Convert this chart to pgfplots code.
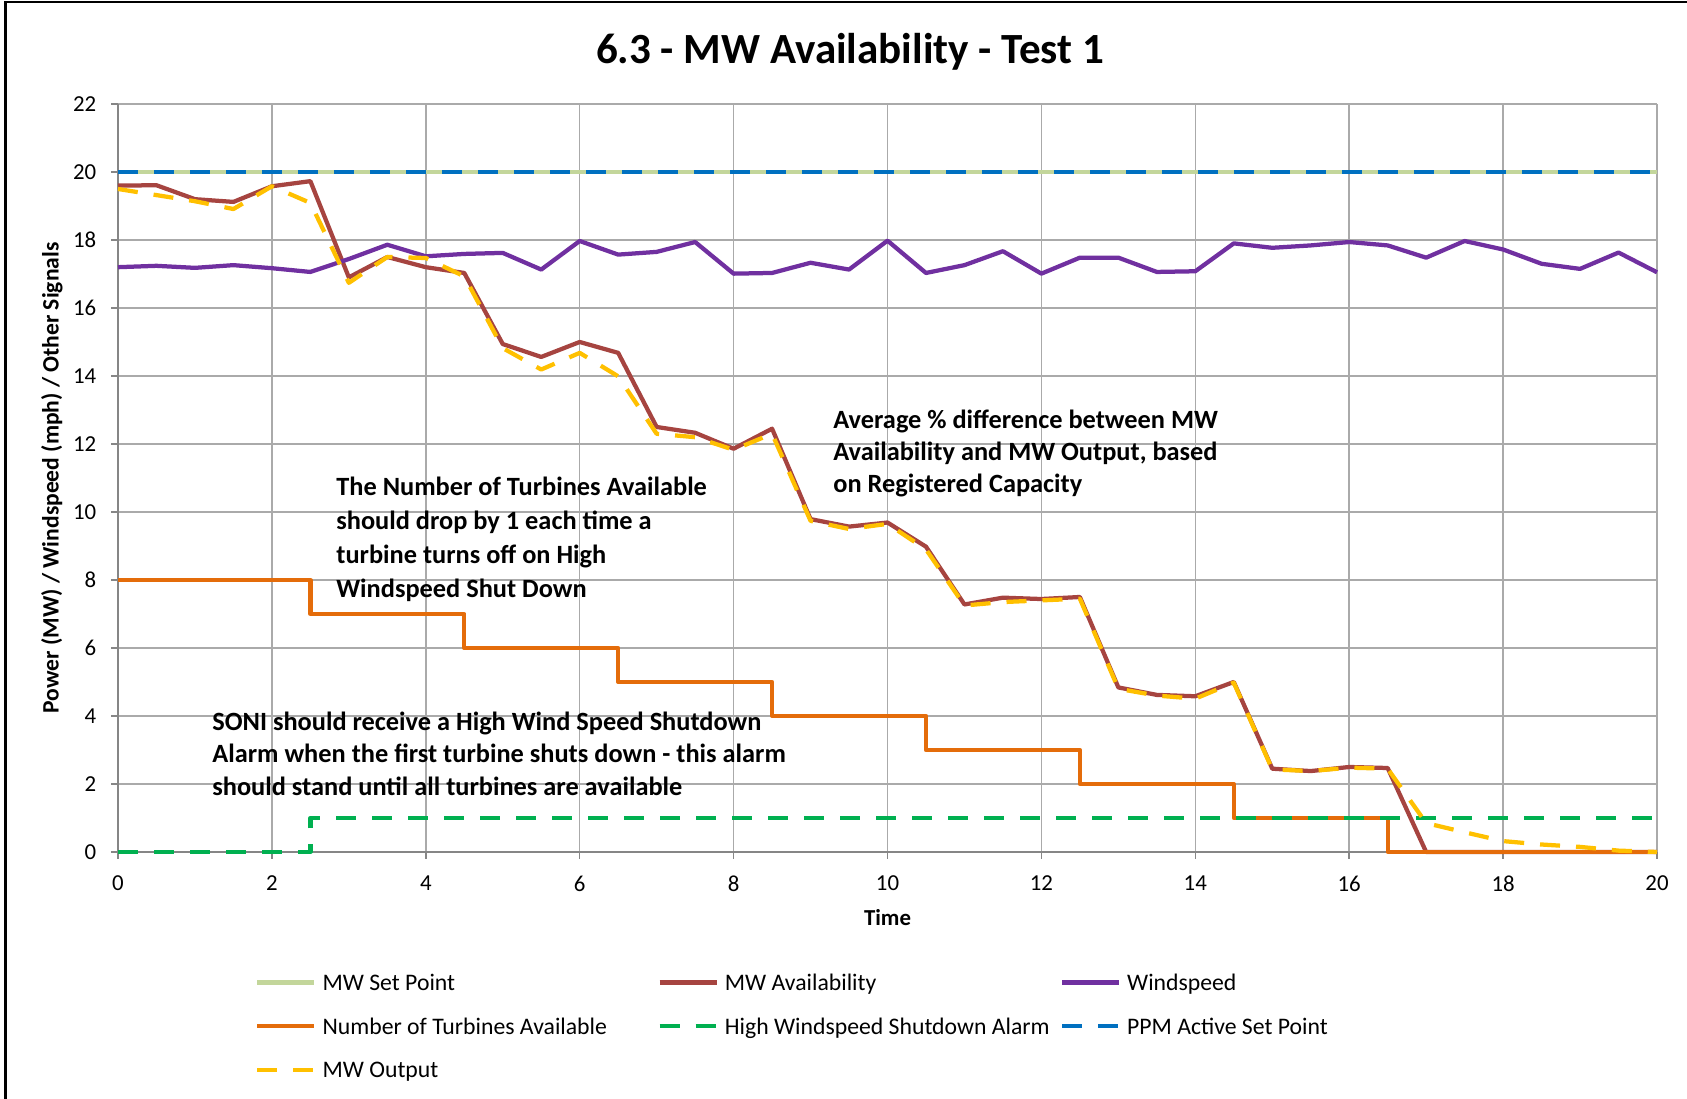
\documentclass[border=0pt]{standalone}
\usepackage{fontspec}
\setmainfont{Carlito}
\usepackage{pgfplots}
\pgfplotsset{compat=1.18}

\definecolor{setpt}{RGB}{195,214,155}
\definecolor{avail}{RGB}{166,68,64}
\definecolor{wind}{RGB}{112,48,160}
\definecolor{turb}{RGB}{228,108,10}
\definecolor{alarm}{RGB}{0,176,80}
\definecolor{ppm}{RGB}{0,112,192}
\definecolor{mwout}{RGB}{255,192,0}
\definecolor{gridgray}{RGB}{170,170,170}
\definecolor{axisgray}{RGB}{134,134,134}

\begin{document}
\begin{tikzpicture}
\path[use as bounding box] (0,0) rectangle (33.74,21.98);
\draw[line width=0.05cm] (0.11,0) -- (0.11,21.94) -- (33.74,21.94);
\node[font=\bfseries\fontsize{24.5}{29}\selectfont] at (17.0,20.94) {6.3 - MW Availability - Test 1};

\begin{axis}[
  at={(2.36cm,4.94cm)}, anchor=south west,
  scale only axis, width=30.78cm, height=14.96cm,
  xmin=0, xmax=20, ymin=0, ymax=22,
  xtick={0,2,...,20}, ytick={0,2,...,22},
  axis lines=left,
  axis line style={-, draw=axisgray, line width=0.9pt},
  grid=major,
  major grid style={draw=gridgray, line width=0.9pt},
  tick align=outside, major tick length=0.14cm,
  tick style={draw=axisgray, line width=0.9pt},
  ticklabel style={font=\fontsize{13}{15}\selectfont},
  /pgf/number format/assume math mode=true,
  yticklabel style={xshift=-0.17cm},
  xticklabel style={yshift=-0.21cm},
  xlabel={Time},
  xlabel style={at={(axis description cs:0.5,-0.088)}, anchor=center, font=\bfseries\fontsize{13}{15}\selectfont},
  ylabel={Power (MW) / Windspeed (mph) / Other Signals},
  ylabel style={at={(axis description cs:-0.0429,0.5)}, anchor=center, font=\bfseries\fontsize{13.4}{15}\selectfont},
  clip=false,
  legend columns=3,
  legend style={at={(axis description cs:0.089,-0.155)}, anchor=north west,
    draw=none, fill=none, inner sep=0pt, column sep=0pt, row sep=0.30cm,
    font=\fontsize{13.5}{15.4}\selectfont, cells={anchor=west}},
  legend image code/.code={\draw[#1] (0cm,0cm) -- (1.14cm,0cm);},
  every axis plot/.append style={line width=0.085cm, line join=round, mark=none},
]

% MW Set Point
\addplot[setpt] coordinates {(0,20) (20,20)};
\addlegendentry{\makebox[6.68cm][l]{\strut\hspace{0.05cm}MW Set Point}}

% MW Availability
\addplot[avail] coordinates {
(0,19.60) (0.5,19.61) (1,19.20) (1.5,19.12) (2,19.58) (2.5,19.73)
(3,16.90) (3.5,17.50) (4,17.20) (4.5,17.03) (5,14.94) (5.5,14.56)
(6,15.00) (6.5,14.68) (7,12.50) (7.5,12.33) (8,11.86) (8.5,12.45)
(9,9.79) (9.5,9.57) (10,9.69) (10.5,8.98) (11,7.28) (11.5,7.48)
(12,7.44) (12.5,7.50) (13,4.84) (13.5,4.62) (14,4.58) (14.5,5.00)
(15,2.45) (15.5,2.38) (16,2.50) (16.5,2.47) (17,0) (17.5,0)
(18,0) (18.5,0) (19,0) (19.5,0) (20,0)
};
\addlegendentry{\makebox[6.68cm][l]{\strut\hspace{0.05cm}MW Availability}}

% Windspeed
\addplot[wind] coordinates {
(0,17.20) (0.5,17.24) (1,17.18) (1.5,17.26) (2,17.17) (2.5,17.06)
(3,17.44) (3.5,17.86) (4,17.52) (4.5,17.59) (5,17.62) (5.5,17.13)
(6,17.97) (6.5,17.57) (7,17.65) (7.5,17.94) (8,17.01) (8.5,17.03)
(9,17.33) (9.5,17.13) (10,17.98) (10.5,17.03) (11,17.26) (11.5,17.67)
(12,17.01) (12.5,17.48) (13,17.48) (13.5,17.06) (14,17.08) (14.5,17.90)
(15,17.77) (15.5,17.84) (16,17.94) (16.5,17.84) (17,17.48) (17.5,17.97)
(18,17.72) (18.5,17.30) (19,17.15) (19.5,17.63) (20,17.05)
};
\addlegendentry{\makebox[6.68cm][l]{\strut\hspace{0.05cm}Windspeed}}

% Number of Turbines Available
\addplot[turb, const plot] coordinates {
(0,8) (2.5,7) (4.5,6) (6.5,5) (8.5,4) (10.5,3) (12.5,2) (14.5,1) (16.5,0) (20,0)
};
\addlegendentry{\makebox[6.68cm][l]{\strut\hspace{0.05cm}Number of Turbines Available}}

% High Windspeed Shutdown Alarm
\addplot[alarm, const plot, dash pattern=on 0.4cm off 0.32cm] coordinates {
(0,0) (2.5,1) (20,1)
};
\addlegendentry{\makebox[6.68cm][l]{\strut\hspace{0.05cm}High Windspeed Shutdown Alarm}}

% PPM Active Set Point
\addplot[ppm, dash pattern=on 0.4cm off 0.32cm] coordinates {(0,20) (20,20)};
\addlegendentry{\makebox[6.68cm][l]{\strut\hspace{0.05cm}PPM Active Set Point}}

% MW Output
\addplot[mwout, dash pattern=on 0.4cm off 0.32cm] coordinates {
(0,19.50) (0.5,19.32) (1,19.14) (1.5,18.91) (2,19.58) (2.5,19.09)
(3,16.74) (3.5,17.50) (4,17.47) (4.5,16.93) (5,14.82) (5.5,14.19)
(6,14.68) (6.5,13.99) (7,12.30) (7.5,12.20) (8,11.83) (8.5,12.30)
(9,9.74) (9.5,9.50) (10,9.65) (10.5,8.90) (11,7.25) (11.5,7.35)
(12,7.40) (12.5,7.45) (13,4.80) (13.5,4.60) (14,4.51) (14.5,4.98)
(15,2.43) (15.5,2.38) (16,2.48) (16.5,2.45) (17,0.85) (17.5,0.58)
(18,0.32) (18.5,0.22) (19,0.15) (19.5,0.04) (20,0)
};
\addlegendentry{\makebox[6.68cm][l]{\strut\hspace{0.05cm}MW Output}}

\node[anchor=north west, align=left, inner sep=0pt,
  font=\bfseries\fontsize{15}{19.2}\selectfont] at (axis cs:2.833,11.03)
  {The Number of Turbines Available\\should drop by 1 each time a\\turbine turns off on High\\Windspeed Shut Down};
\node[anchor=north west, align=left, inner sep=0pt,
  font=\bfseries\fontsize{15}{18.4}\selectfont] at (axis cs:1.222,4.13)
  {SONI should receive a High Wind Speed Shutdown\\Alarm when the first turbine shuts down - this alarm\\should stand until all turbines are available};
\node[anchor=north west, align=left, inner sep=0pt,
  font=\bfseries\fontsize{15}{18.2}\selectfont] at (axis cs:9.292,13.02)
  {Average \% difference between MW\\Availability and MW Output, based\\on Registered Capacity};
\end{axis}
\end{tikzpicture}
\end{document}
